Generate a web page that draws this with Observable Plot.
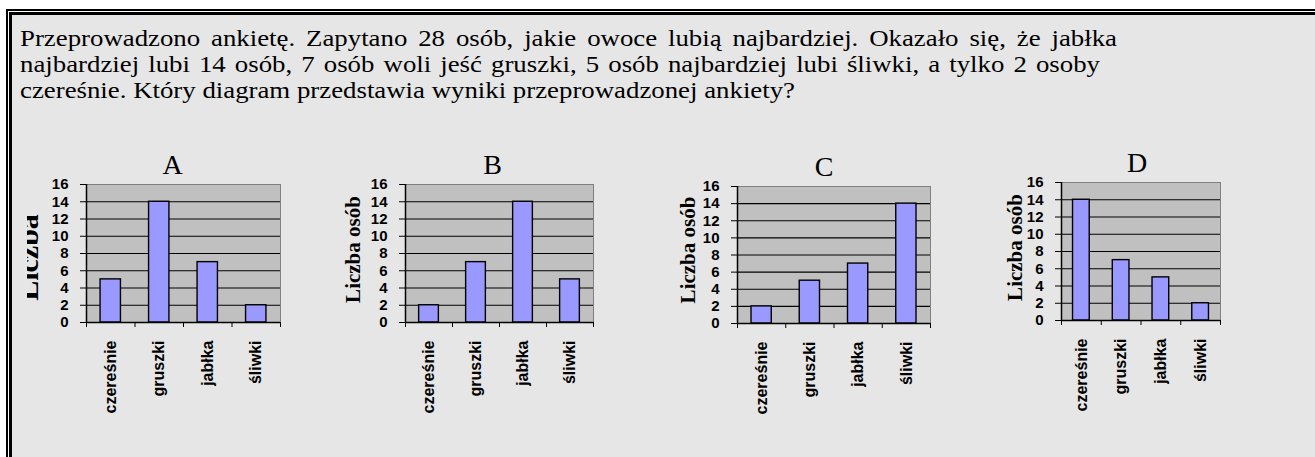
<!DOCTYPE html>
<html><head><meta charset="utf-8">
<script src="https://cdn.jsdelivr.net/npm/d3@7"></script>
<script src="https://cdn.jsdelivr.net/npm/@observablehq/plot@0.6"></script>
<style>
html,body{margin:0;padding:0;width:1315px;height:457px;overflow:hidden;background:#fff;}
#outer{position:absolute;left:6px;top:9px;right:-30px;bottom:-30px;border-left:2px solid #000;border-top:2px solid #000;background:#fff;}
#inner{position:absolute;left:1px;top:1px;right:0;bottom:0;border-left:3px solid #000;border-top:3px solid #000;background:#e6e6e6;}
.line{position:absolute;left:20px;font-family:"Liberation Serif",serif;font-size:23px;white-space:nowrap;color:#000;line-height:26px;transform-origin:0 0;}
.chart{position:absolute;}
</style></head><body>
<div id="outer"><div id="inner"></div></div>
<div id="text"></div>
<div id="charts"></div>
<script>
// ---- data ----
const questionLines = [
  "Przeprowadzono ankietę. Zapytano 28 osób, jakie owoce lubią najbardziej. Okazało się, że jabłka",
  "najbardziej lubi 14 osób, 7 osób woli jeść gruszki, 5 osób najbardziej lubi śliwki, a tylko 2 osoby",
  "czereśnie. Który diagram przedstawia wyniki przeprowadzonej ankiety?"
];
const categories = ["czereśnie", "gruszki", "jabłka", "śliwki"];
const panelNames = ["A", "B", "C", "D"];
const valuesA = [5, 14, 7, 2];
const valuesB = [2, 7, 14, 5];
const valuesC = [2, 5, 7, 14];
const valuesD = [14, 7, 5, 2];
const yTicks = [0, 2, 4, 6, 8, 10, 12, 14, 16];
const axisLabel = "Liczba osób";

// ---- layout ----
const lineTops = [26, 52, 78];
const lineWidths = [1097, 1080, 775];
const textDiv = document.getElementById("text");
const lineDivs = questionLines.map((t, i) => {
  const d = document.createElement("div");
  d.className = "line"; d.style.top = lineTops[i] + "px"; d.textContent = t;
  textDiv.appendChild(d);
  return d;
});
// horizontal stretch from the last (unjustified) line, extra word spacing for the others
const nat = lineDivs.map(d => d.getBoundingClientRect().width);
const sx = lineWidths[2] / nat[2];
lineDivs.forEach((d, i) => {
  const spaces = questionLines[i].split(" ").length - 1;
  if (i < 2) d.style.wordSpacing = ((lineWidths[i] / sx - nat[i]) / spaces) + "px";
  d.style.transform = `scaleX(${sx})`;
});

const svgTop = 140;
const layouts = [
  {values: valuesA, svgLeft: 27,  left: 86,   right: 280,  top: 184, bottom: 322, labelDx: -49, labelDy: 4,  labelSize: 30, short: true,  titleDx: -11},
  {values: valuesB, svgLeft: 330, left: 405,  right: 593,  top: 184, bottom: 322, labelDx: -46, labelDy: -4, labelSize: 21, short: false, titleDx: -7},
  {values: valuesC, svgLeft: 660, left: 737,  right: 930,  top: 186, bottom: 323, labelDx: -43, labelDy: -5, labelSize: 21, short: false, titleDx: -10},
  {values: valuesD, svgLeft: 990, left: 1061, right: 1220, top: 182, bottom: 320, labelDx: -40, labelDy: -4, labelSize: 21, short: false, titleDx: -4}
];

function chart(L, name) {
  const data = categories.map((c, i) => ({cat: c, idx: i, value: L.values[i]}));
  const plotW = L.right - L.left, plotH = L.bottom - L.top;
  const ml = L.left - L.svgLeft, mt = L.top - svgTop, mr = 12, mb = 110;
  const band = plotW / categories.length;
  const inset = band * 0.29;
  const label = L.short ? axisLabel.split(" ")[0] : axisLabel;
  return Plot.plot({
    width: ml + plotW + mr,
    height: mt + plotH + mb,
    marginLeft: ml, marginRight: mr, marginTop: mt, marginBottom: mb,
    x: {type: "linear", domain: [0, categories.length], axis: null, label: null},
    y: {domain: [0, 16], axis: null, label: null},
    style: {background: "transparent", overflow: "hidden", fontFamily: "Liberation Sans", fontWeight: "bold", fontSize: "15px", color: "#000"},
    marks: [
      Plot.frame({fill: "#c0c0c0", stroke: "#808080"}),
      Plot.ruleY(yTicks.filter(t => t > 0 && t < 16), {stroke: "#000", strokeWidth: 1.2}),
      Plot.rectY(data, {x1: "idx", x2: d => d.idx + 1, y: "value", fill: "#9999ff", stroke: "#000", strokeWidth: 1.4, insetLeft: inset, insetRight: inset}),
      Plot.ruleX([0], {stroke: "#000", strokeWidth: 1.5}),
      Plot.ruleY([0], {stroke: "#000", strokeWidth: 1.5}),
      Plot.axisY(yTicks, {tickSize: 6, tickPadding: 12, fontSize: 15, fontWeight: "bold", fontFamily: "Liberation Sans", label: null}),
      Plot.axisX(d3.range(categories.length + 1), {tickSize: 5, tickFormat: () => "", label: null}),
      Plot.text(data, {x: d => d.idx + 0.5, frameAnchor: "bottom", dy: 18, rotate: -90, textAnchor: "end", lineAnchor: "middle", text: "cat", fontSize: 16, fontWeight: "bold", fontFamily: "Liberation Sans", fill: "#000"}),
      Plot.text([label], {frameAnchor: "left", rotate: -90, dx: L.labelDx, dy: L.labelDy, textAnchor: "middle", lineAnchor: "bottom", fontFamily: "Liberation Serif", fontWeight: "bold", fontSize: L.labelSize, fill: "#000"}),
      Plot.text([name], {frameAnchor: "top", dx: L.titleDx, dy: -11, lineAnchor: "bottom", fontFamily: "Liberation Serif", fontWeight: "normal", fontSize: 28, fill: "#000"})
    ]
  });
}

const charts = document.getElementById("charts");
layouts.forEach((L, i) => {
  const svg = chart(L, panelNames[i]);
  const wrap = document.createElement("div");
  wrap.className = "chart";
  wrap.style.left = L.svgLeft + "px";
  wrap.style.top = svgTop + "px";
  wrap.appendChild(svg);
  charts.appendChild(wrap);
});
</script>
</body></html>
